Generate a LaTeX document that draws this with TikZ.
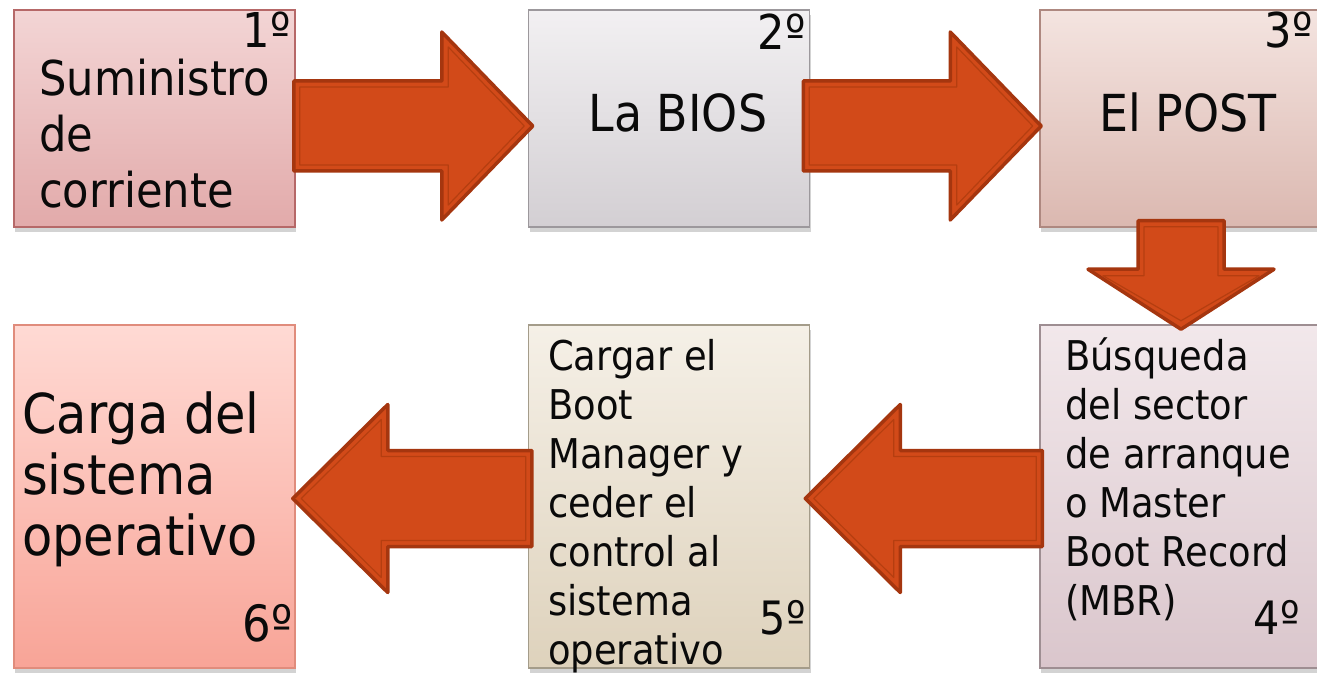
\documentclass[tikz,border=0pt]{standalone}
\usepackage{fontspec}
\setmainfont{DejaVu Sans}[FakeStretch=0.9]
\usetikzlibrary{calc,shadows}
\definecolor{textcol}{HTML}{0A0A0A}
\definecolor{aFill}{HTML}{D24A19}
\definecolor{aDark}{HTML}{A5360F}
\definecolor{aMid}{HTML}{B53E10}
\definecolor{bAtop}{HTML}{F3D5D5}\definecolor{bAbot}{HTML}{E2AAAA}\definecolor{bAline}{HTML}{B66868}
\definecolor{bBtop}{HTML}{F2F0F2}\definecolor{bBbot}{HTML}{D3CFD3}\definecolor{bBline}{HTML}{9C989C}
\definecolor{bCtop}{HTML}{F4E4E0}\definecolor{bCbot}{HTML}{DBB8B0}\definecolor{bCline}{HTML}{AE8880}
\definecolor{bDtop}{HTML}{F2E8EB}\definecolor{bDbot}{HTML}{DAC6CC}\definecolor{bDline}{HTML}{9E8E92}
\definecolor{bEtop}{HTML}{F5F0E7}\definecolor{bEbot}{HTML}{DED2BC}\definecolor{bEline}{HTML}{A49C8A}
\definecolor{bFtop}{HTML}{FFDAD4}\definecolor{bFbot}{HTML}{F8A497}\definecolor{bFline}{HTML}{E08C7C}
\tikzset{
  box/.style={draw, line width=1.5pt, minimum width=281pt, inner sep=0pt,
    drop shadow={opacity=0.35, shadow xshift=1pt, shadow yshift=-5pt}},
  toprow/.style={minimum height=217pt},
  botrow/.style={minimum height=343pt},
  arrowout/.style={draw=aDark, fill=aFill, line width=3.5pt, line join=round},
  arrowin/.style={draw=aMid, line width=1.2pt, line join=round},
  txt/.style={inner sep=0pt, text=textcol, align=left, anchor=north west},
  num/.style={inner sep=0pt, text=textcol, anchor=base east},
}
% #1 style, #2 name, #3 tail, #4 tip, #5 shaft half, #6 head half, #7 head length
\newcommand{\blockarrow}[7]{%
  \coordinate (#2T) at #3;
  \coordinate (#2H) at #4;
  \coordinate (#2B) at ($(#2H)!#7!(#2T)$);
  \draw[#1] ($(#2T)!#5!90:(#2H)$) -- ($(#2B)!#5!90:(#2H)$) -- ($(#2B)!#6!90:(#2H)$)
    -- (#2H) -- ($(#2B)!#6!-90:(#2H)$) -- ($(#2B)!#5!-90:(#2H)$) -- ($(#2T)!#5!-90:(#2H)$) -- cycle;
}
\newcommand{\fullarrow}[6]{%
  \blockarrow{arrowout}{#1}{#2}{#3}{#4pt}{#5pt}{#6pt}
  \blockarrow{arrowin}{#1i}{($(#1T)!6pt!(#1H)$)}{($(#1H)!8.5pt!(#1T)$)}{\the\numexpr#4-6\relax pt}{\the\numexpr#5-15\relax pt}{\the\numexpr#6-15\relax pt}
}
\begin{document}
\begin{tikzpicture}[x=1pt, y=-1pt]
\useasboundingbox (0,0) rectangle (1317,676);
\clip (0,0) rectangle (1317,676);

% boxes
\node[box, toprow, draw=bAline, top color=bAtop, bottom color=bAbot] (b1) at (154.5,118.5) {};
\node[box, toprow, draw=bBline, top color=bBtop, bottom color=bBbot] (b2) at (669,118.5) {};
\node[box, toprow, draw=bCline, top color=bCtop, bottom color=bCbot] (b3) at (1180.5,118.5) {};
\node[box, botrow, draw=bDline, top color=bDtop, bottom color=bDbot] (b4) at (1180.5,496.5) {};
\node[box, botrow, draw=bEline, top color=bEtop, bottom color=bEbot] (b5) at (669,496.5) {};
\node[box, botrow, draw=bFline, top color=bFtop, bottom color=bFbot] (b6) at (154.5,496.5) {};

% texts
\node[txt, font=\fontsize{48}{56}\selectfont] (t1) at (39,56.6)
  {\rule{0pt}{38.4pt}Suministro\\de\\corriente};
\node[inner sep=0pt, text=textcol, anchor=base, font=\fontsize{51}{60}\selectfont] (t2) at (678,132) {La BIOS};
\node[inner sep=0pt, text=textcol, anchor=base, font=\fontsize{51}{60}\selectfont] (t3) at (1188,132) {El POST};
\node[txt, font=\fontsize{41}{49}\selectfont] (t4) at (1065,335.15)
  {\rule{0pt}{34.85pt}Búsqueda\\del sector\\de arranque\\o Master\\Boot Record\\(MBR)};
\node[txt, font=\fontsize{41}{49}\selectfont] (t5) at (548,335.15)
  {\rule{0pt}{34.85pt}Cargar el\\Boot\\Manager y\\ceder el\\control al\\sistema\\operativo};
\node[txt, font=\fontsize{55}{61}\selectfont] (t6) at (22,389)
  {\rule{0pt}{44pt}Carga del\\sistema\\operativo};

% ordinal numbers
\node[num, font=\fontsize{48}{50}\selectfont] (n1) at (291,48) {1º};
\node[num, font=\fontsize{48}{50}\selectfont] (n2) at (806,50) {2º};
\node[num, font=\fontsize{48}{50}\selectfont] (n3) at (1313,48) {3º};
\node[num, font=\fontsize{46}{50}\selectfont] (n4) at (1300,634) {4º};
\node[num, font=\fontsize{46}{50}\selectfont] (n5) at (806,634) {5º};
\node[num, font=\fontsize{50}{52}\selectfont] (n6) at (293,641) {6º};

% block arrows
\fullarrow{a12}{($(b1.east)+(-2,7.5)$)}{($(b2.west)+(5,7.5)$)}{45}{94}{91}
\fullarrow{a23}{($(b2.east)+(-7,7.5)$)}{($(b3.west)+(2,7.5)$)}{45}{94}{91}
\fullarrow{a34}{($(b3.south)+(0.5,-7)$)}{($(b4.north)+(0.5,5)$)}{43}{93}{60}
\fullarrow{a45}{($(b4.west)+(3,2)$)}{($(b5.east)+(-5,2)$)}{48}{94}{95}
\fullarrow{a56}{($(b5.west)+(4,2)$)}{($(b6.east)+(-3,2)$)}{48}{94}{95}
\end{tikzpicture}
\end{document}
